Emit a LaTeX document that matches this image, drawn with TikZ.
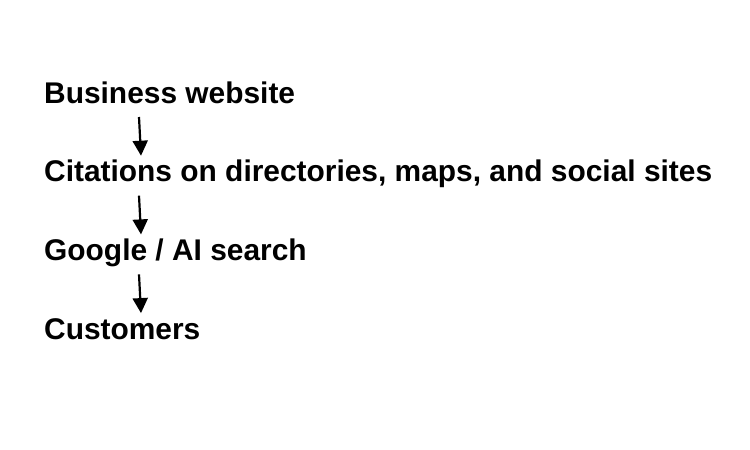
\documentclass[tikz,border=0pt]{standalone}
\usepackage{fontspec}
\setmainfont{Liberation Sans}
\usepackage{xcolor}
\usetikzlibrary{positioning,arrows.meta}
\tikzset{
  steptext/.style={anchor=base west, inner sep=0pt, font=\fontsize{29.9}{34}\selectfont\bfseries},
  flowarrow/.style={-{Triangle[length=15pt,width=15pt]}, line width=2.2pt}
}

\begin{document}
\begin{tikzpicture}[x=1pt, y=-1pt]
					\useasboundingbox (0,0) rectangle (750,450);
					\def\gap{78.7}
					\node[steptext] (site) at (44,103) {Business website};
					\node[steptext] (cites) at (44,103+\gap) {Citations on directories, maps, and social sites};
					\node[steptext] (search) at (44,103+2*\gap) {Google / AI search};
					\node[steptext] (buyers) at (44,103+3*\gap) {Customers};
					
					\foreach \a/\b in {site/cites, cites/search, search/buyers} {
						\draw[flowarrow] ([shift={(95,14)}]\a.base west) -- ([shift={(97,-26)}]\b.base west);
					}
				\end{tikzpicture}
\end{document}
